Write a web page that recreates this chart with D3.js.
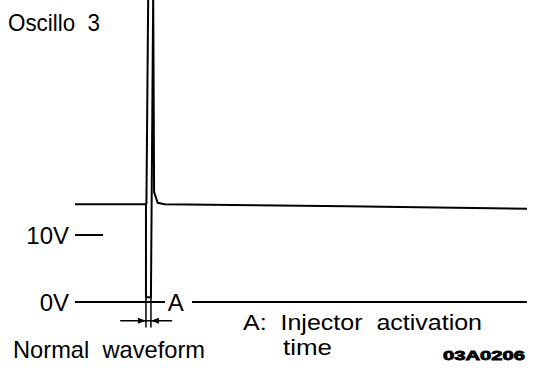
<!DOCTYPE html>
<html>
<head>
<meta charset="utf-8">
<script src="https://cdn.jsdelivr.net/npm/d3@7"></script>
<style>
  html, body { margin: 0; padding: 0; background: #fff; }
  svg { display: block; font-family: "Liberation Sans", Arial, sans-serif; }
  svg text { white-space: pre; }
</style>
</head>
<body>
<svg id="scope" width="544" height="368"></svg>
<script>
(function () {
    'use strict';

    // injector drive waveform (time in arbitrary units, volts)
    const traceTime  = [0, 15.7, 15.7, 16.8, 17.3, 17.5, 18.3, 19.8, 60, 100];
    const traceVolts = [14.6, 14.6, 0.7, 0.7, 46, 16.4, 14.8, 14.6, 14.3, 13.9];
    // retrace of the spike, left edge above the supply level
    const retraceTime  = [16.2, 15.8];
    const retraceVolts = [46, 14.6];
    // 0V reference line, broken for the "A" label
    const zeroLineSegments = [[0, 19.9], [25.9, 100]];
    const tickVolts  = [10, 0];
    const tickLabels = ["10V", "0V"];
    const activationStart = 15.7;
    const activationEnd = 16.8;

    const x = d3.scaleLinear().domain([0, 100]).range([75, 527]);
    const y = d3.scaleLinear().domain([0, 10]).range([302, 235]);

    const svg = d3.select('#scope');

    const line = d3.line()
            .x(d => x(d[0]))
            .y(d => y(d[1]));

    // tick on the voltage axis and labels
    svg.append("line")
            .attr("x1", x(0)).attr("x2", x(6.2))
            .attr("y1", y(tickVolts[0])).attr("y2", y(tickVolts[0]))
            .attr("stroke", "#000").attr("stroke-width", 2);

    svg.selectAll("text.tick")
            .data(tickVolts)
            .join("text")
            .attr("class", "tick")
            .attr("x", 69)
            .attr("y", d => y(d) + 9)
            .attr("text-anchor", "end")
            .attr("font-size", 24)
            .text((d, i) => tickLabels[i]);

    // 0V line
    svg.append("g")
            .selectAll("path")
            .data(zeroLineSegments)
            .join("path")
            .attr("d", seg => line([[seg[0], 0], [seg[1], 0]]))
            .attr("fill", "none")
            .attr("stroke", "#000")
            .attr("stroke-width", 2);

    svg.append("text")
            .attr("x", x(20.5)).attr("y", y(0) + 9)
            .attr("font-size", 24)
            .text("A");

    // waveform
    svg.append("path")
            .datum(d3.zip(traceTime, traceVolts))
            .attr("d", line)
            .attr("fill", "none")
            .attr("stroke", "#000")
            .attr("stroke-width", 2);

    svg.append("path")
            .datum(d3.zip(retraceTime, retraceVolts))
            .attr("d", line)
            .attr("fill", "none")
            .attr("stroke", "#000")
            .attr("stroke-width", 2);

    // activation time dimension
    const dimY = y(-2.8);
    [activationStart, activationEnd].forEach(t => {
        svg.append("line")
                .attr("x1", x(t)).attr("x2", x(t))
                .attr("y1", y(0.7)).attr("y2", y(-3.8))
                .attr("stroke", "#000").attr("stroke-width", 1.5);
    });
    svg.append("line")
            .attr("x1", x(10)).attr("x2", x(21.5))
            .attr("y1", dimY).attr("y2", dimY)
            .attr("stroke", "#000").attr("stroke-width", 1.5);

    const arrow = (tip, dir) => {
        const tx = x(tip);
        return `M${tx},${dimY} L${tx - dir * 8},${dimY - 3} L${tx - dir * 8},${dimY + 3} Z`;
    };
    svg.append("path").attr("d", arrow(activationStart, 1)).attr("fill", "#000");
    svg.append("path").attr("d", arrow(activationEnd, -1)).attr("fill", "#000");

    // captions
    const caption = (tx, ty, size, len, str) => svg.append("text")
            .attr("x", tx).attr("y", ty)
            .attr("font-size", size)
            .attr("textLength", len)
            .attr("lengthAdjust", "spacingAndGlyphs")
            .text(str);

    caption(8, 31, 24, 92, "Oscillo  3");
    caption(13, 358, 24, 192, "Normal  waveform");
    caption(243, 330, 22, 239, "A:  Injector  activation");
    caption(283, 355, 22, 49, "time");
    caption(443, 360, 13, 82, "03A0206")
            .attr("font-weight", 900)
            .attr("stroke", "#000")
            .attr("stroke-width", 0.8);
}());
</script>
</body>
</html>
